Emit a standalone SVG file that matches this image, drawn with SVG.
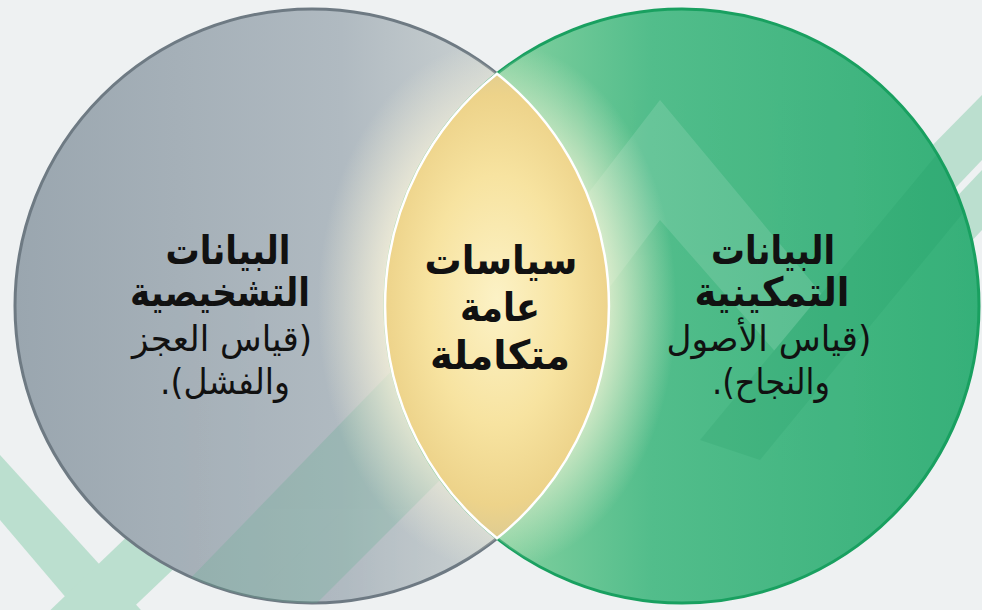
<svg xmlns="http://www.w3.org/2000/svg" width="982" height="610" viewBox="0 0 982 610">
<defs>
<style>
.t{font-family:"DejaVu Sans","Noto Sans",sans-serif;fill:#111;text-anchor:middle;direction:rtl}
.b{font-weight:bold;font-size:40px}
.r{font-weight:normal;font-size:35px}
.band{fill:#7fcaa5}
</style>
<linearGradient id="gl" x1="0" y1="0" x2="1" y2="0">
<stop offset="0" stop-color="#9aa6af"/>
<stop offset="0.55" stop-color="#b0bac1"/>
<stop offset="0.78" stop-color="#c8cfd0"/>
<stop offset="1" stop-color="#f3f1e0"/>
</linearGradient>
<linearGradient id="gr" x1="0" y1="0" x2="1" y2="0">
<stop offset="0" stop-color="#eef2cc"/>
<stop offset="0.2" stop-color="#82d09f"/>
<stop offset="0.45" stop-color="#52bd8b"/>
<stop offset="1" stop-color="#36b079"/>
</linearGradient>
<radialGradient id="glow" cx="497" cy="306" r="230" gradientUnits="userSpaceOnUse" gradientTransform="translate(497 306) scale(0.78 1.15) translate(-497 -306)">
<stop offset="0" stop-color="#fffbe6" stop-opacity="1"/>
<stop offset="0.55" stop-color="#fff8dc" stop-opacity="0.85"/>
<stop offset="1" stop-color="#fff8dc" stop-opacity="0"/>
</radialGradient>
<radialGradient id="lens" cx="497" cy="300" r="250" gradientUnits="userSpaceOnUse" gradientTransform="translate(497 300) scale(0.55 1) translate(-497 -300)">
<stop offset="0" stop-color="#fcf2c6"/>
<stop offset="0.5" stop-color="#f7e3a0"/>
<stop offset="0.82" stop-color="#edd38a"/>
<stop offset="1" stop-color="#d9c994"/>
</radialGradient>
<clipPath id="both">
<circle cx="312" cy="306" r="297"/>
<circle cx="682" cy="306" r="297"/>
</clipPath>
<clipPath id="cl"><circle cx="312" cy="306" r="297"/></clipPath>
<clipPath id="cr"><circle cx="682" cy="306" r="297"/></clipPath>
</defs>
<rect width="982" height="610" fill="#eef1f2"/>
<g id="background-chevrons" opacity="0.45">
<polygon class="band" points="0,455 0,520 85,620 150,620"/>
<polygon class="band" points="40,620 120,620 330,420 280,390"/>
<polygon class="band" points="982,95 982,160 820,330 780,300"/>
<polygon class="band" points="982,170 982,230 870,350 840,320"/>
</g>
<g id="node-left">
<circle cx="312" cy="306" r="297" fill="url(#gl)" stroke="#6e7a83" stroke-width="3"/>
<g clip-path="url(#cl)" opacity="0.25">
<polygon fill="#5fae8e" points="150,620 260,620 520,330 470,290"/>
<polygon fill="#5fae8e" points="230,620 300,620 540,380 510,350"/>
</g>
</g>
<g id="node-right">
<circle cx="682" cy="306" r="297" fill="url(#gr)" stroke="#19a060" stroke-width="3"/>
<g clip-path="url(#cr)" opacity="0.12">
<polygon fill="#ffffff" points="560,230 660,100 860,340 800,380 660,220 600,300"/>
<polygon fill="#0d8a52" points="700,440 982,100 982,190 760,460"/>
</g>
</g>
<g id="glow" clip-path="url(#both)">
<ellipse cx="497" cy="306" rx="210" ry="280" fill="url(#glow)"/>
</g>
<g id="node-center">
<path d="M497,73.7 A297,297 0 0 1 497,538.3 A297,297 0 0 1 497,73.7 Z" fill="url(#lens)" stroke="#ffffff" stroke-width="2.5"/>
</g>
<g id="labels">
<g id="label-left">
<text class="t b" x="228" y="264" textLength="125" lengthAdjust="spacingAndGlyphs">البيانات</text>
<text class="t b" x="220" y="306" textLength="180" lengthAdjust="spacingAndGlyphs">التشخيصية</text>
<text class="t r" x="222" y="351" textLength="180" lengthAdjust="spacingAndGlyphs">(قياس العجز</text>
<text class="t r" x="225" y="394" textLength="130" lengthAdjust="spacingAndGlyphs">والفشل).</text>
</g>
<g id="label-center">
<text class="t b" x="501" y="274" textLength="153" lengthAdjust="spacingAndGlyphs">سياسات</text>
<text class="t b" x="500" y="321" textLength="80" lengthAdjust="spacingAndGlyphs">عامة</text>
<text class="t b" x="500" y="369" textLength="140" lengthAdjust="spacingAndGlyphs">متكاملة</text>
</g>
<g id="label-right">
<text class="t b" x="773" y="264" textLength="124" lengthAdjust="spacingAndGlyphs">البيانات</text>
<text class="t b" x="772" y="306" textLength="155" lengthAdjust="spacingAndGlyphs">التمكينية</text>
<text class="t r" x="769" y="351" textLength="205" lengthAdjust="spacingAndGlyphs">(قياس الأصول</text>
<text class="t r" x="771" y="394" textLength="118" lengthAdjust="spacingAndGlyphs">والنجاح).</text>
</g>
</g>
</svg>
